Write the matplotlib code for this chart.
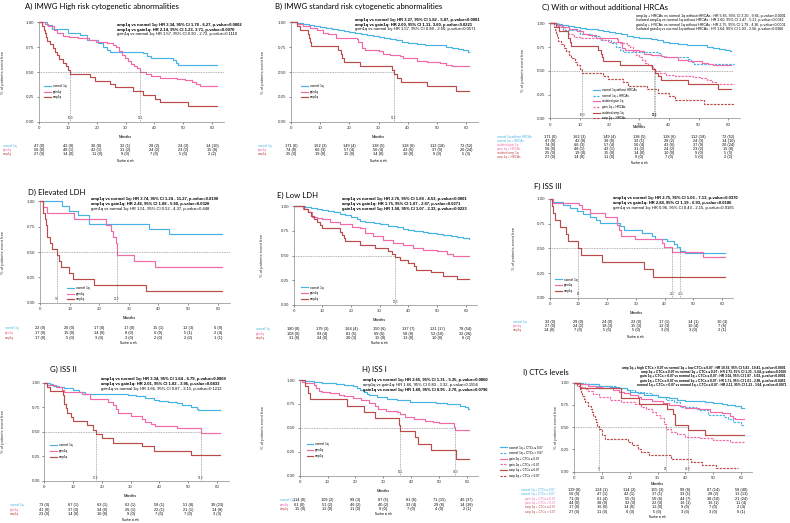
import matplotlib.pyplot as plt
from matplotlib.lines import Line2D
from matplotlib.transforms import blended_transform_factory

plt.rcParams['font.family'] = ['Liberation Sans', 'DejaVu Sans']

W, H = 790, 523
BLUE = '#45b4e4'
PINK = '#f06aa8'
RED = '#bb4b48'

months = [0, 10, 20, 30, 40, 50, 60]

# A) IMWG high risk
a_norm_t = [0, 2.7, 4.5, 10.2, 14.2, 16.8, 20.6, 22.3, 23.5, 24.5, 36.2, 37.5, 39.0, 46.5, 47.5, 48.3, 61.8]
a_norm_s = [1, 0.97, 0.93, 0.89, 0.87, 0.82, 0.79, 0.75, 0.72, 0.70, 0.69, 0.66, 0.645, 0.62, 0.59, 0.575, 0.575]
a_gain_t = [0, 2.0, 3.0, 5.2, 6.2, 8.2, 10.3, 13.4, 17.5, 19.6, 23.7, 25.8, 26.8, 27.8, 28.8, 29.9, 30.9, 32.0, 33.0, 34.0, 35.1, 37.0, 39.0, 42.0, 48.0, 50.5, 53.0, 54.5, 55.8, 61.8]
a_gain_s = [1, 0.98, 0.96, 0.92, 0.89, 0.86, 0.85, 0.84, 0.82, 0.80, 0.79, 0.77, 0.755, 0.71, 0.67, 0.64, 0.61, 0.58, 0.56, 0.54, 0.50, 0.48, 0.46, 0.44, 0.43, 0.42, 0.40, 0.38, 0.36, 0.36]
a_amp_t = [0, 1.2, 1.6, 2.0, 2.4, 2.7, 3.8, 4.7, 5.5, 6.4, 7.0, 8.4, 9.2, 10.2, 10.9, 17.7, 19.4, 24.6, 26.4, 32.7, 36.2, 40.2, 42.0, 51.8, 61.8]
a_amp_s = [1, 0.963, 0.926, 0.889, 0.852, 0.815, 0.778, 0.741, 0.704, 0.667, 0.630, 0.593, 0.556, 0.519, 0.481, 0.445, 0.41, 0.38, 0.345, 0.31, 0.27, 0.23, 0.195, 0.155, 0.155]
a_nrisk = [[47, 42, 36, 32, 28, 24, 14], [56, 48, 42, 31, 24, 23, 15], [27, 14, 11, 9, 7, 5, 2]]
a_ncens = [[0, 0, 0, 1, 2, 3, 10], [0, 1, 1, 2, 2, 2, 8], [0, 0, 0, 0, 0, 0, 2]]
a_notes = ["amp1q vs normal 1q: HR 3.34, 95% CI 1.78 - 6.27, p-value=0.0002",
           "amp1q vs gain1q: HR 2.14, 95% CI 1.23- 3.71, p-value=0.0070",
           "gain1q vs normal 1q: HR 1.57, 95% CI 0.90 - 2.72, p-value=0.1110"]
a_medians = [10.9, 35.1]

# B) IMWG standard risk
b_norm_t = [0, 2, 4, 6, 8, 10, 12, 14, 16, 18, 20, 22, 24, 26, 28, 30, 32, 34, 36, 38, 40, 43, 46, 50, 53, 55, 57, 59, 60.5, 61]
b_norm_s = [1, 0.99, 0.985, 0.975, 0.965, 0.955, 0.945, 0.935, 0.925, 0.915, 0.905, 0.895, 0.885, 0.87, 0.86, 0.85, 0.84, 0.83, 0.82, 0.805, 0.795, 0.785, 0.775, 0.77, 0.755, 0.74, 0.73, 0.72, 0.705, 0.705]
b_gain_t = [0, 2, 4.2, 6.5, 9, 11, 12.8, 15.4, 22.5, 23, 24.2, 25.3, 30, 31.6, 33.9, 37.3, 38.4, 43, 46.4, 51, 53.2, 55, 61]
b_gain_s = [1, 0.98, 0.96, 0.945, 0.92, 0.89, 0.88, 0.84, 0.83, 0.80, 0.745, 0.72, 0.71, 0.68, 0.67, 0.66, 0.64, 0.61, 0.60, 0.587, 0.575, 0.565, 0.565]
b_amp_t = [0, 2, 3, 5.9, 6.2, 6.6, 7, 16, 17, 17.5, 18, 23.5, 34.4, 35.2, 36.2, 37.5, 46.5, 56.5, 61]
b_amp_s = [1, 0.96, 0.92, 0.88, 0.84, 0.80, 0.76, 0.72, 0.68, 0.64, 0.60, 0.56, 0.52, 0.48, 0.44, 0.40, 0.36, 0.31, 0.31]
b_nrisk = [[171, 162, 149, 138, 128, 112, 72], [74, 66, 57, 50, 43, 37, 20], [25, 19, 15, 14, 10, 9, 5]]
b_ncens = [[0, 3, 4, 5, 6, 18, 52], [0, 3, 4, 4, 6, 9, 24], [0, 0, 0, 0, 0, 0, 3]]
b_notes = ["amp1q vs normal 1q: HR 3.27, 95% CI 1.82 - 5.87, p-value<0.0001",
           "amp1q vs gain1q: HR 2.00, 95% CI 1.11- 3.60, p-value=0.0221",
           "gain1q vs normal 1q: HR 1.57, 95% CI 0.98 - 2.50, p-value=0.0571"]
b_medians = [35.2]

# C) with or without HRCAs (groups taken from A and B)
c_labels = ["normal 1q without HRCAs", "normal 1q + HRCAs", "isolated gain 1q",
            "gain 1q + HRCAs", "isolated amp 1q", "amp 1q + HRCAs"]
c_notes = ["amp1q + HRCAs vs normal 1q without HRCAs : HR 5.85, 95% CI 3.20 - 9.86, p-value<0.0001",
           "Isolated amp1q vs normal 1q without HRCAs : HR 2.60, 95% CI 1.47 - 5.21, p-value=0.0042",
           "gain1q + HRCAs vs normal 1q without HRCAs : HR 2.75, 95% CI 1.79 - 4.36, p-value<0.0001",
           "Isolated gain1q vs normal 1q without HRCAs : HR 1.64, 95% CI 1.03 - 2.56, p-value=0.0366"]
c_medians = [10.9, 35.1, 35.2]

# D) elevated LDH
d_norm_t = [0, 7.3, 9.8, 12.7, 16.5, 36.8, 43.7, 61.5]
d_norm_s = [1, 0.955, 0.909, 0.864, 0.773, 0.727, 0.68, 0.68]
d_gain_t = [0, 1.1, 2.3, 11.5, 22.3, 24, 24.7, 25.5, 25.9, 31.8, 38.9, 61.5]
d_gain_s = [1, 0.941, 0.882, 0.824, 0.765, 0.706, 0.647, 0.588, 0.471, 0.412, 0.353, 0.353]
d_amp_t = [0, 0.9, 1.1, 1.6, 2.0, 2.2, 2.5, 3.5, 4.0, 5.6, 6.5, 7.1, 9.7, 11.3, 18.4, 35.7, 61.5]
d_amp_s = [1, 0.941, 0.882, 0.824, 0.765, 0.706, 0.647, 0.588, 0.529, 0.471, 0.412, 0.353, 0.294, 0.235, 0.176, 0.118, 0.118]
d_nrisk = [[22, 20, 17, 17, 15, 12, 6], [17, 15, 14, 8, 6, 5, 2], [17, 5, 3, 3, 2, 2, 1]]
d_ncens = [[0, 0, 0, 0, 1, 3, 9], [0, 0, 0, 0, 0, 1, 4], [0, 0, 0, 0, 0, 0, 1]]
d_notes = ["amp1q vs normal 1q: HR 3.74, 95% CI 1.24 - 11.27, p-value=0.0190",
           "amp1q vs gain1q: HR 2.46, 95% CI 1.08 - 5.60, p-value=0.0320",
           "gain1q vs normal 1q: HR 1.51, 95% CI 0.52 - 4.37, p-value=0.448"]
d_medians = [5.6, 25.9]

# E) low LDH
e_norm_t = [0, 2, 4, 6, 8, 10, 12, 14, 16, 18, 20, 22, 23, 25, 28, 30, 33, 36, 38, 40, 42, 45, 47, 50, 52, 55, 57, 59, 61]
e_norm_s = [1, 0.995, 0.985, 0.975, 0.97, 0.96, 0.95, 0.935, 0.92, 0.905, 0.89, 0.87, 0.85, 0.84, 0.83, 0.82, 0.80, 0.785, 0.77, 0.76, 0.75, 0.74, 0.73, 0.72, 0.71, 0.70, 0.69, 0.68, 0.67]
e_gain_t = [0, 3.4, 5.1, 6.3, 8, 9.8, 12.7, 16.2, 20.2, 23, 24.9, 27.8, 31.3, 34.8, 38.3, 41.7, 45.2, 49.9, 53.4, 55.7, 61]
e_gain_s = [1, 0.97, 0.94, 0.89, 0.875, 0.865, 0.835, 0.815, 0.79, 0.775, 0.73, 0.70, 0.66, 0.625, 0.605, 0.58, 0.555, 0.545, 0.52, 0.50, 0.50]
e_amp_t = [0, 3.5, 5, 6, 7, 8, 9, 10, 16, 16.7, 17.4, 18, 23, 28.5, 33, 34.2, 35.5, 37, 40, 42, 42.7, 48, 52, 57, 61]
e_amp_s = [1, 0.97, 0.94, 0.90, 0.87, 0.84, 0.81, 0.775, 0.74, 0.71, 0.68, 0.645, 0.61, 0.58, 0.55, 0.52, 0.48, 0.45, 0.42, 0.39, 0.355, 0.33, 0.29, 0.26, 0.26]
e_nrisk = [[180, 179, 164, 150, 137, 121, 78], [108, 93, 81, 69, 58, 52, 32], [31, 24, 20, 15, 13, 10, 6]]
e_ncens = [[0, 3, 4, 6, 7, 17, 54], [0, 4, 5, 6, 8, 10, 26], [0, 0, 3, 0, 0, 0, 2]]
e_notes = ["amp1q vs normal 1q: HR 2.76, 95% CI 1.68 - 4.53, p-value<0.0001",
           "amp1q vs gain1q: HR 1.75, 95% CI 1.07 - 2.87, p-value=0.0271",
           "gain1q vs normal 1q: HR 1.58, 95% CI 1.07 - 2.33, p-value=0.0223"]
e_medians = [35.5]

# F) ISS III
f_norm_t = [0, 0.9, 4.8, 7.1, 9.4, 11.7, 14, 16, 17.6, 24.5, 25.7, 32, 35.6, 36.7, 40.8, 43.4, 44.3, 45.5, 47.2, 61]
f_norm_s = [1, 0.97, 0.94, 0.91, 0.88, 0.85, 0.82, 0.79, 0.76, 0.725, 0.69, 0.66, 0.63, 0.59, 0.575, 0.545, 0.51, 0.47, 0.455, 0.455]
f_gain_t = [0, 1.3, 10.3, 11.2, 14, 19.3, 23.6, 24.3, 24.9, 29.8, 39, 39.9, 42.7, 53.4, 61]
f_gain_s = [1, 0.963, 0.94, 0.895, 0.86, 0.82, 0.736, 0.686, 0.63, 0.59, 0.55, 0.51, 0.466, 0.41, 0.41]
f_amp_t = [0, 0.8, 1.0, 2.0, 3.7, 5.8, 6.2, 10, 11, 18.2, 33, 36, 61]
f_amp_s = [1, 0.929, 0.857, 0.786, 0.714, 0.643, 0.571, 0.50, 0.429, 0.357, 0.286, 0.214, 0.214]
f_nrisk = [[32, 29, 24, 22, 17, 14, 10], [27, 24, 18, 15, 12, 10, 7], [14, 7, 5, 5, 3, 3, 2]]
f_ncens = [[0, 0, 0, 0, 1, 1, 3], [0, 2, 3, 3, 3, 4, 6], [0, 0, 0, 0, 0, 0, 1]]
f_notes = ["amp1q vs normal 1q: HR 2.75, 95% CI 1.06 - 7.13, p-value=0.0370",
           "amp1q vs gain1q: HR 2.88, 95% CI 1.19 - 6.93, p-value=0.0186",
           "gain1q vs normal 1q: HR 0.96, 95% CI 0.43 - 2.15, p-value=0.9165"]
f_medians = [10, 42.7, 45.5]

# G) ISS II
g_norm_t = [0, 2, 3, 5, 7, 10, 12, 14, 16, 29, 32, 35, 38, 40, 43, 46, 48, 51, 53, 53.5, 61]
g_norm_s = [1, 0.99, 0.97, 0.96, 0.95, 0.93, 0.91, 0.89, 0.88, 0.87, 0.86, 0.84, 0.82, 0.81, 0.80, 0.79, 0.77, 0.755, 0.735, 0.72, 0.72]
g_gain_t = [0, 1, 4, 6, 7, 13, 15, 16, 22, 24, 25, 25.5, 30, 34, 35, 37, 38.5, 46, 54.3, 61]
g_gain_s = [1, 0.98, 0.955, 0.93, 0.91, 0.89, 0.88, 0.83, 0.805, 0.77, 0.73, 0.695, 0.66, 0.63, 0.60, 0.58, 0.56, 0.535, 0.485, 0.485]
g_amp_t = [0, 1, 2, 6.5, 6.8, 7.0, 7.5, 8, 9.2, 10, 15, 17, 17.9, 20, 24, 34, 38, 51, 61]
g_amp_s = [1, 0.957, 0.913, 0.87, 0.826, 0.783, 0.739, 0.696, 0.652, 0.609, 0.565, 0.522, 0.478, 0.435, 0.39, 0.355, 0.31, 0.265, 0.265]
g_nrisk = [[73, 67, 63, 62, 58, 51, 30], [41, 37, 34, 26, 22, 21, 14], [23, 14, 10, 9, 7, 7, 3]]
g_ncens = [[0, 1, 1, 1, 1, 8, 23], [0, 0, 0, 1, 1, 1, 8], [0, 0, 0, 0, 0, 0, 3]]
g_notes = ["amp1q vs normal 1q: HR 3.34, 95% CI 1.64 - 6.79, p-value=0.0009",
           "amp1q vs gain1q: HR 2.01, 95% CI 1.02 - 3.96, p-value=0.0433",
           "gain1q vs normal 1q: HR 1.66, 95% CI 0.87 - 3.15, p-value=0.1212"]
g_medians = [17.9, 54.3]

# H) ISS I
h_norm_t = [0, 2, 5, 8, 10, 13, 16, 19, 20.5, 21.7, 23, 24, 25, 27.7, 31.3, 35, 39.6, 44, 49, 53, 57.6, 59.5, 60.6, 61]
h_norm_s = [1, 0.99, 0.98, 0.97, 0.965, 0.955, 0.945, 0.935, 0.913, 0.895, 0.87, 0.85, 0.84, 0.82, 0.80, 0.79, 0.775, 0.765, 0.756, 0.745, 0.728, 0.715, 0.697, 0.697]
h_gain_t = [0, 1, 2, 5, 6, 7, 8, 11, 14, 16, 19, 22, 25, 27, 28, 31, 35, 36, 38, 41, 45, 48, 50, 55.5, 55.9, 61]
h_gain_s = [1, 0.98, 0.965, 0.95, 0.92, 0.89, 0.87, 0.86, 0.84, 0.83, 0.81, 0.79, 0.76, 0.73, 0.70, 0.68, 0.665, 0.64, 0.61, 0.59, 0.575, 0.56, 0.55, 0.51, 0.48, 0.48]
h_amp_t = [0, 2, 3, 3.8, 17, 23, 27, 35.5, 36.1, 41.5, 42.5, 47, 56, 61]
h_amp_s = [1, 0.933, 0.867, 0.80, 0.733, 0.667, 0.60, 0.533, 0.467, 0.40, 0.333, 0.267, 0.178, 0.178]
h_nrisk = [[114, 109, 99, 87, 81, 71, 46], [61, 51, 46, 40, 33, 29, 14], [15, 12, 11, 9, 7, 4, 2]]
h_ncens = [[0, 2, 3, 5, 6, 15, 37], [0, 2, 2, 2, 4, 6, 18], [0, 0, 0, 0, 0, 0, 1]]
h_notes = ["amp1q vs normal 1q: HR 2.65, 95% CI 1.31 - 5.35, p-value=0.0060",
           "amp1q vs gain1q: HR 1.66, 95% CI 0.83 - 3.32, p-value=0.1556",
           "gain1q vs normal 1q: HR 1.60, 95% CI 0.95 - 2.70, p-value=0.0796"]
h_medians = [36.1, 55.9]

# I) CTCs levels
i_nlo_t = [0, 3, 6, 9, 13, 16, 19, 20, 23, 25, 30, 34, 37, 40, 44, 47, 50, 53, 55, 58, 60, 61]
i_nlo_s = [1, 0.99, 0.98, 0.965, 0.95, 0.935, 0.92, 0.90, 0.88, 0.86, 0.84, 0.825, 0.81, 0.80, 0.79, 0.78, 0.77, 0.76, 0.75, 0.735, 0.72, 0.72]
i_nhi_t = [0, 4, 8, 15, 19, 22, 25, 28, 30, 33, 36, 38, 44, 45, 48, 54, 55.5, 57, 60, 61]
i_nhi_s = [1, 0.98, 0.96, 0.94, 0.92, 0.90, 0.88, 0.86, 0.84, 0.81, 0.78, 0.73, 0.71, 0.69, 0.64, 0.62, 0.59, 0.56, 0.53, 0.53]
i_glo_t = [0, 2, 5, 8, 10, 14, 16, 18, 20, 23, 24, 28, 32, 34, 38, 40, 45, 49, 53, 56, 57, 58, 61]
i_glo_s = [1, 0.98, 0.96, 0.95, 0.935, 0.915, 0.90, 0.88, 0.86, 0.84, 0.82, 0.79, 0.77, 0.75, 0.74, 0.72, 0.70, 0.675, 0.655, 0.625, 0.605, 0.59, 0.59]
i_ghi_t = [0, 1, 2, 4, 5, 7, 9, 13, 17, 22, 24, 26, 28, 29.5, 31, 32.2, 33, 35, 37, 40, 45, 50, 56, 61]
i_ghi_s = [1, 0.98, 0.95, 0.93, 0.91, 0.87, 0.835, 0.805, 0.78, 0.76, 0.73, 0.70, 0.67, 0.64, 0.60, 0.54, 0.48, 0.45, 0.42, 0.39, 0.375, 0.355, 0.335, 0.335]
i_alo_t = [0, 2, 17, 23.4, 33.3, 35.7, 36.3, 40.9, 47, 61]
i_alo_s = [1, 0.941, 0.824, 0.765, 0.706, 0.647, 0.529, 0.47, 0.41, 0.41]
i_ahi_t = [0, 1, 2, 2.5, 3, 3.5, 4, 5, 6, 6.5, 7, 7.5, 8, 8.4, 9, 10, 11, 19.5, 21, 23, 24, 27, 35, 42, 46, 51, 59]
i_ahi_s = [1, 0.963, 0.926, 0.889, 0.852, 0.815, 0.778, 0.741, 0.704, 0.667, 0.63, 0.593, 0.556, 0.519, 0.481, 0.407, 0.37, 0.333, 0.296, 0.259, 0.222, 0.185, 0.148, 0.111, 0.074, 0.037, 0.037]
i_labels = ["normal 1q + CTCs \u2264 0.07", "normal 1q + CTCs > 0.07", "gain 1q + CTCs \u2264 0.07",
            "gain 1q + CTCs > 0.07", "amp 1q + CTCs \u2264 0.07", "amp 1q + CTCs > 0.07"]
i_nrisk = [[129, 124, 114, 105, 99, 87, 58], [50, 47, 42, 37, 33, 28, 13], [71, 61, 55, 50, 44, 38, 21],
           [44, 38, 32, 22, 16, 16, 11], [17, 16, 14, 12, 9, 7, 2], [27, 11, 6, 5, 3, 3, 0]]
i_ncens = [[0, 1, 2, 3, 6, 14, 40], [0, 1, 1, 1, 1, 2, 13], [0, 4, 5, 6, 7, 10, 24],
           [0, 0, 0, 0, 1, 1, 4], [0, 0, 0, 0, 0, 0, 4], [0, 0, 0, 0, 0, 0, 1]]
i_notes = ["amp 1q + high CTCs > 0.07 vs normal 1q + low CTCs \u2264 0.07 : HR 10.56, 95% CI 5.83 - 19.41, p-value<0.0001",
           "amp 1q + CTCs \u2264 0.07 vs normal 1q + CTCs \u2264 0.07 : HR 2.73, 95% CI 1.33 - 5.64, p-value=0.0060",
           "gain 1q + CTCs > 0.07 vs normal 1q + CTCs \u2264 0.07 : HR 3.02, 95% CI 1.87 - 5.03, p-value<0.0001",
           "gain 1q + CTCs \u2264 0.07 vs normal 1q + CTCs \u2264 0.07 : HR 1.71, 95% CI 1.01 - 2.88, p-value=0.0451",
           "normal 1q + CTCs > 0.07 vs normal 1q + CTCs \u2264 0.07 : HR 2.11, 95% CI 1.23 - 3.64, p-value=0.0071"]
i_medians = [9, 33, 40.9]

three_labels = ["normal 1q", "gain1q", "amp1q"]
three_colors = [BLUE, PINK, RED]
six_colors = [BLUE, BLUE, PINK, PINK, RED, RED]
six_styles = ['-', (0, (2, 1)), '-', (0, (2, 1)), '-', (0, (2, 1))]

fig = plt.figure(figsize=(W / 100, H / 100), dpi=100)


def fx(x):
    return x / W


def fy(y):
    return 1 - y / H


def panel(g, curves, colors, styles, leg_labels, row_labels, nrisk, ncens, notes, bold,
          medians, hend, note_fs=3.0, note_ha='left', row_ha='left'):
    xmax = 64
    w = (g['x60'] - g['x0']) / 60 * xmax
    ax = fig.add_axes([fx(g['x0']), fy(g['y0']), w / W, (g['y0'] - g['y1']) / H])
    ax.set_xlim(0, xmax)
    ax.set_ylim(0, 1)
    for sp in ['top', 'right']:
        ax.spines[sp].set_visible(False)
    for sp in ['left', 'bottom']:
        ax.spines[sp].set_color('#888888')
        ax.spines[sp].set_linewidth(0.5)
    ax.set_xticks(months)
    ax.set_yticks([0, 0.25, 0.5, 0.75, 1.0])
    ax.set_yticklabels(['0.00', '0.25', '0.50', '0.75', '1.00'])
    ax.tick_params(labelsize=3.2, length=1.2, width=0.4, pad=2, colors='#333333')

    handles = []
    for (t, s), c, ls in zip(curves, colors, styles):
        ax.step(t, s, where='post', color=c, lw=0.85, ls=ls, clip_on=False)
        handles.append(Line2D([], [], color=c, lw=0.85, ls=ls))

    ax.plot([0, hend], [0.5, 0.5], color='#666666', lw=0.4, ls=(0, (1.5, 1.5)))
    for m in medians:
        ax.plot([m, m], [0, 0.5], color='#666666', lw=0.4, ls=(0, (1.5, 1.5)))
        ax.text(m, 0.035, f"{m:g}", fontsize=2, ha='center', va='center', color='#333333')

    ax.legend(handles, leg_labels, loc='upper left', bbox_to_anchor=(fx(g['lx']), fy(g['ly'])),
              bbox_transform=fig.transFigure, fontsize=2.2, frameon=False, handlelength=2.2,
              handletextpad=0.6, labelspacing=0.55, borderpad=0, borderaxespad=0)

    fig.text(fx(g['tx']), fy(g['ty']), g['title'], family=['Lato', 'DejaVu Sans'],
             fontsize=5.6, va='center', ha='left')
    for k, line in enumerate(notes):
        fig.text(fx(g['nx']), fy(g['ny'] + k * g['nd']), line, fontsize=note_fs,
                 fontweight='bold' if bold[k] else 'normal', va='center', ha=note_ha)
    fig.text(fx(g['ylx']), fy((g['y0'] + g['y1']) / 2), '% of patients event free',
             rotation=90, fontsize=3, va='center', ha='center', color='#333333')

    tr = blended_transform_factory(ax.transData, fig.transFigure)
    ax.text(30, fy(g['my']), 'Months', transform=tr, ha='center', va='center', fontsize=2.9)
    for r, lab in enumerate(row_labels):
        yy = fy(g['ry'] + r * g['rd'])
        fig.text(fx(g['rx']), yy, lab, color=colors[r], fontsize=2.2, va='center', ha=row_ha)
        for j, t in enumerate(months):
            ax.text(t, yy, f"{nrisk[r][j]} ({ncens[r][j]})", transform=tr, ha='center',
                    va='center', fontsize=2.8, clip_on=False)
    ax.text(30, fy(g['nary']), 'Number at risk', transform=tr, ha='center', va='center',
            fontsize=1.9)
    return ax


geoA = dict(x0=39, x60=212, y1=22.3, y0=121.7, tx=25, ty=6.5, title='A) IMWG High risk cytogenetic abnormalities',
            nx=117, ny=25, nd=4.6, lx=44, ly=84, ylx=3, rx=3, ry=146, rd=4, my=137, nary=161)
panel(geoA, [(a_norm_t, a_norm_s), (a_gain_t, a_gain_s), (a_amp_t, a_amp_s)], three_colors, ['-'] * 3,
      three_labels, three_labels, a_nrisk, a_ncens, a_notes, [True, True, False], a_medians, 64)

geoB = dict(x0=291, x60=466.3, y1=22.3, y0=121.7, tx=275, ty=6.5, title='B) IMWG standard risk cytogenetic abnormalities',
            nx=355, ny=20, nd=4.6, lx=301, ly=84, ylx=262.7, rx=258, ry=146, rd=4, my=137, nary=161)
panel(geoB, [(b_norm_t, b_norm_s), (b_gain_t, b_gain_s), (b_amp_t, b_amp_s)], three_colors, ['-'] * 3,
      three_labels, three_labels, b_nrisk, b_ncens, b_notes, [True, True, False], b_medians, 35.2)

geoC = dict(x0=550, x60=728.3, y1=23.3, y0=118.3, tx=541.7, ty=7.5, title='C) With or without additional HRCAs',
            nx=636, ny=16, nd=4.5, lx=593, ly=88, ylx=523, rx=497, ry=137, rd=3.95, my=127.3, nary=163.3)
panel(geoC, [(b_norm_t, b_norm_s), (a_norm_t, a_norm_s), (b_gain_t, b_gain_s), (a_gain_t, a_gain_s),
             (b_amp_t, b_amp_s), (a_amp_t, a_amp_s)], six_colors, six_styles,
      c_labels, c_labels, [b_nrisk[0], a_nrisk[0], b_nrisk[1], a_nrisk[1], b_nrisk[2], a_nrisk[2]],
      [b_ncens[0], a_ncens[0], b_ncens[1], a_ncens[1], b_ncens[2], a_ncens[2]],
      c_notes, [False] * 4, c_medians, 61.5, note_fs=2.6)

geoD = dict(x0=40, x60=217.7, y1=201.3, y0=302.7, tx=28, ty=192.7, title='D) Elevated LDH',
            nx=91, ny=199.3, nd=5, lx=67, ly=286, ylx=2.7, rx=5, ry=328.3, rd=4.7, my=317.7, nary=343.3)
panel(geoD, [(d_norm_t, d_norm_s), (d_gain_t, d_gain_s), (d_amp_t, d_amp_s)], three_colors, ['-'] * 3,
      three_labels, three_labels, d_nrisk, d_ncens, d_notes, [True, True, False], d_medians, 66)

geoE = dict(x0=293.7, x60=465.7, y1=206, y0=305, tx=277, ty=195, title='E) Low LDH',
            nx=341.7, ny=199.3, nd=5, lx=301, ly=285.5, ylx=262, rx=256, ry=329.3, rd=4.2, my=320, nary=343)
panel(geoE, [(e_norm_t, e_norm_s), (e_gain_t, e_gain_s), (e_amp_t, e_amp_s)], three_colors, ['-'] * 3,
      three_labels, three_labels, e_nrisk, e_ncens, e_notes, [True, True, True], e_medians, 35.5)

geoF = dict(x0=549.7, x60=722, y1=199, y0=297.7, tx=534, ty=186, title='F) ISS III',
            nx=613.3, ny=198.3, nd=5, lx=555, ly=277.5, ylx=514, rx=513, ry=322, rd=4, my=312.7, nary=336.7)
panel(geoF, [(f_norm_t, f_norm_s), (f_gain_t, f_gain_s), (f_amp_t, f_amp_s)], three_colors, ['-'] * 3,
      three_labels, three_labels, f_nrisk, f_ncens, f_notes, [True, True, False], f_medians, 45.5)

geoG = dict(x0=44.3, x60=217, y1=382.7, y0=481, tx=50, ty=369.3, title='G) ISS II',
            nx=101, ny=379, nd=5, lx=50, ly=443.3, ylx=2.7, rx=10, ry=505.3, rd=4.3, my=495.7, nary=519.7)
panel(geoG, [(g_norm_t, g_norm_s), (g_gain_t, g_gain_s), (g_amp_t, g_amp_s)], three_colors, ['-'] * 3,
      three_labels, three_labels, g_nrisk, g_ncens, g_notes, [True, True, False], g_medians, 54.3)

geoH = dict(x0=299.7, x60=466.7, y1=380, y0=475.7, tx=361.7, ty=369.3, title='H) ISS I',
            nx=362.7, ny=380, nd=5, lx=306.7, ly=442.3, ylx=263, rx=280, ry=500, rd=4.65, my=490.7, nary=514.3)
panel(geoH, [(h_norm_t, h_norm_s), (h_gain_t, h_gain_s), (h_amp_t, h_amp_s)], three_colors, ['-'] * 3,
      three_labels, three_labels, h_nrisk, h_ncens, h_notes, [True, False, True], h_medians, 55.9)

geoI = dict(x0=574, x60=741, y1=382.7, y0=471.7, tx=523, ty=372.3, title='I) CTCs levels',
            nx=786, ny=368.3, nd=4.1, lx=500, ly=445.5, ylx=556, rx=555, ry=490, rd=4.35, my=484, nary=517.5)
panel(geoI, [(i_nlo_t, i_nlo_s), (i_nhi_t, i_nhi_s), (i_glo_t, i_glo_s), (i_ghi_t, i_ghi_s),
             (i_alo_t, i_alo_s), (i_ahi_t, i_ahi_s)], six_colors, six_styles,
      i_labels, i_labels, i_nrisk, i_ncens, i_notes, [True] * 5, i_medians, 40.9,
      note_fs=2.35, note_ha='right', row_ha='right')

fig.savefig('out.png', dpi=100)
